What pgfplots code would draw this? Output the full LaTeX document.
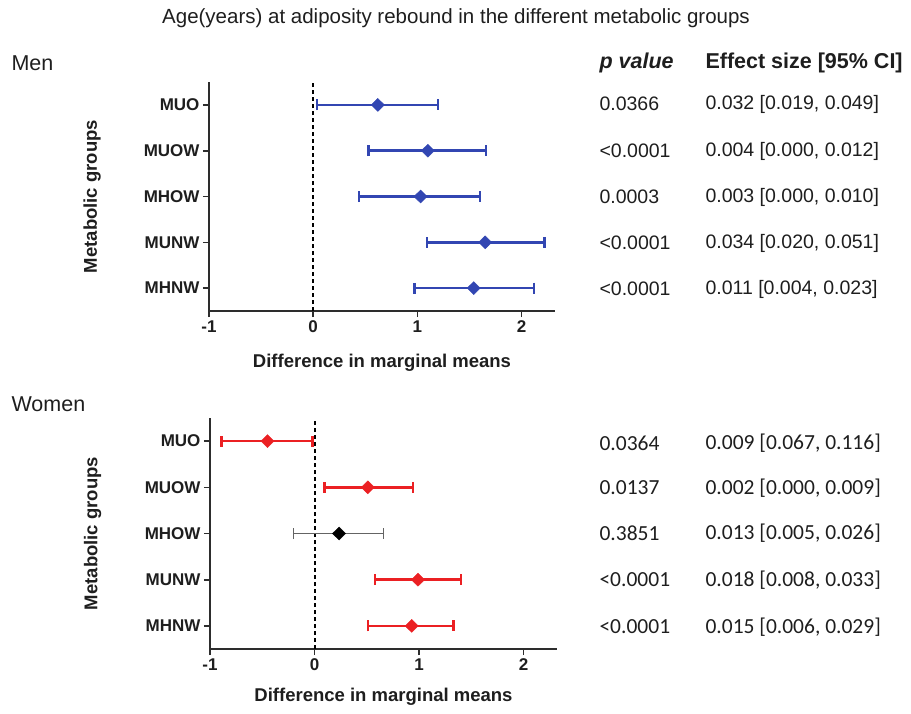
\documentclass[border=0pt]{standalone}
\usepackage{fontspec}
\setmainfont{Liberation Sans}
\newfontfamily\calibri{Carlito}
\usepackage{pgfplots}
\usepackage{pgfplotstable}
\pgfplotsset{compat=1.18}
\definecolor{cblue}{RGB}{50,70,178}
\definecolor{cred}{RGB}{235,32,35}
\definecolor{cgray}{RGB}{100,100,100}
\definecolor{axgray}{RGB}{45,45,45}
\definecolor{txt}{RGB}{30,30,30}

% y: 5=MUO, 4=MUOW, 3=MHOW, 2=MUNW, 1=MHNW ; m = mean difference, em/ep = CI half-widths
\pgfplotstableread{
y m em ep
5 0.62 0.585 0.58
4 1.10 0.57 0.56
3 1.03 0.59 0.57
2 1.65 0.56 0.57
1 1.54 0.57 0.58
}\men
\pgfplotstableread{
y m em ep
5 -0.45 0.44 0.43
4 0.51 0.415 0.43
2 0.99 0.41 0.41
1 0.93 0.42 0.40
}\womensig
\pgfplotstableread{
y m em ep
3 0.235 0.435 0.425
}\womenns

\pgfplotsset{forest/.style={
  scale only axis, clip=false,
  xmin=-1, xmax=2.32, ymin=0.5, ymax=5.5,
  axis x line*=bottom, axis y line*=left,
  axis line style={line width=2pt, draw=axgray, -},
  xtick={-1,0,1,2}, xticklabels={-1,0,1,2},
  ytick={1,2,3,4,5}, yticklabels={MHNW,MUNW,MHOW,MUOW,MUO},
  tick align=outside, major tick length=6pt,
  major tick style={line width=1.6pt, draw=axgray},
  tick label style={font=\fontsize{17}{20}\selectfont\bfseries, text=txt},
  xlabel={Difference in marginal means},
  xlabel style={font=\fontsize{18.5}{22}\selectfont\bfseries, text=txt, anchor=center},
  ylabel={Metabolic groups},
  ylabel style={font=\fontsize{18.5}{22}\selectfont\bfseries, text=txt, anchor=center, at={(axis description cs:-0.338,0.5)}},
},
fbar/.style={#1, only marks, mark=diamond*, mark size=6.5pt,
  mark options={fill=#1, draw=#1, line width=0.4pt, xscale=1.35},
  error bars/.cd, x dir=both, x explicit, error mark=|,
  error bar style={line width=2.7pt, draw=#1},
  error mark options={line width=2.4pt, draw=#1, mark size=5.5pt}},
}

\begin{document}
\begin{tikzpicture}[x=1pt,y=1pt]
\useasboundingbox (0,0) rectangle (911,-713);

\node[font=\fontsize{20.5}{24}\selectfont, text=txt] at (456,-18) {Age(years) at adiposity rebound in the different metabolic groups};
\node[font=\fontsize{21.5}{25}\selectfont, text=txt, anchor=west] at (8,-63) {Men};
\node[font=\fontsize{21.5}{25}\selectfont, text=txt, anchor=west] at (8,-404) {Women};

% Men
\begin{axis}[forest, width=346pt, height=229pt, at={(209pt,-311pt)}, anchor=south west,
  xlabel style={at={(axis description cs:0.5,-0.227)}}]
\addplot[black, line width=2pt, dash pattern=on 4pt off 3pt] coordinates {(0,0.5) (0,5.5)};
\addplot[fbar=cblue] table[x=m, y=y, x error plus=ep, x error minus=em] {\men};
\end{axis}

% Women
\begin{axis}[forest, width=347pt, height=231pt, at={(210pt,-649pt)}, anchor=south west,
  xlabel style={at={(axis description cs:0.5,-0.206)}}]
\addplot[black, line width=2pt, dash pattern=on 4pt off 3pt] coordinates {(0,0.5) (0,5.5)};
\addplot[fbar=cred] table[x=m, y=y, x error plus=ep, x error minus=em] {\womensig};
\addplot[cgray, only marks, mark=diamond*, mark size=6.5pt,
  mark options={fill=black, draw=black, line width=0.4pt, xscale=1.35},
  error bars/.cd, x dir=both, x explicit, error mark=|,
  error bar style={line width=1.5pt, draw=cgray},
  error mark options={line width=1.5pt, draw=cgray, mark size=5.5pt}]
  table[x=m, y=y, x error plus=ep, x error minus=em] {\womenns};
\end{axis}

% table headers
\node[font=\fontsize{21.5}{25}\selectfont\bfseries\itshape, text=txt, anchor=west] at (596,-63) {p value};
\node[font=\fontsize{21.5}{25}\selectfont\bfseries, text=txt, anchor=west] at (702,-63) {Effect size [95\% CI]};

% men values
\begin{scope}[every node/.style={font=\fontsize{19.5}{23}\selectfont, text=txt, anchor=west}]
\node at (596,-104) {0.0366}; \node at (702,-104) {0.032 [0.019, 0.049]};
\node at (596,-151) {<0.0001}; \node at (702,-151) {0.004 [0.000, 0.012]};
\node at (596,-197) {0.0003}; \node at (702,-197) {0.003 [0.000, 0.010]};
\node at (596,-243) {<0.0001}; \node at (702,-243) {0.034 [0.020, 0.051]};
\node at (596,-289) {<0.0001}; \node at (702,-289) {0.011 [0.004, 0.023]};
\end{scope}
% women values
\begin{scope}[every node/.style={font=\calibri\fontsize{21.5}{25}\selectfont, text=txt, anchor=west}]
\node at (596,-443) {0.0364}; \node at (702,-443) {0.009 [0.067, 0.116]};
\node at (596,-488) {0.0137}; \node at (702,-488) {0.002 [0.000, 0.009]};
\node at (596,-533) {0.3851}; \node at (702,-533) {0.013 [0.005, 0.026]};
\node at (596,-580) {<0.0001}; \node at (702,-580) {0.018 [0.008, 0.033]};
\node at (596,-627) {<0.0001}; \node at (702,-627) {0.015 [0.006, 0.029]};
\end{scope}
\end{tikzpicture}
\end{document}
